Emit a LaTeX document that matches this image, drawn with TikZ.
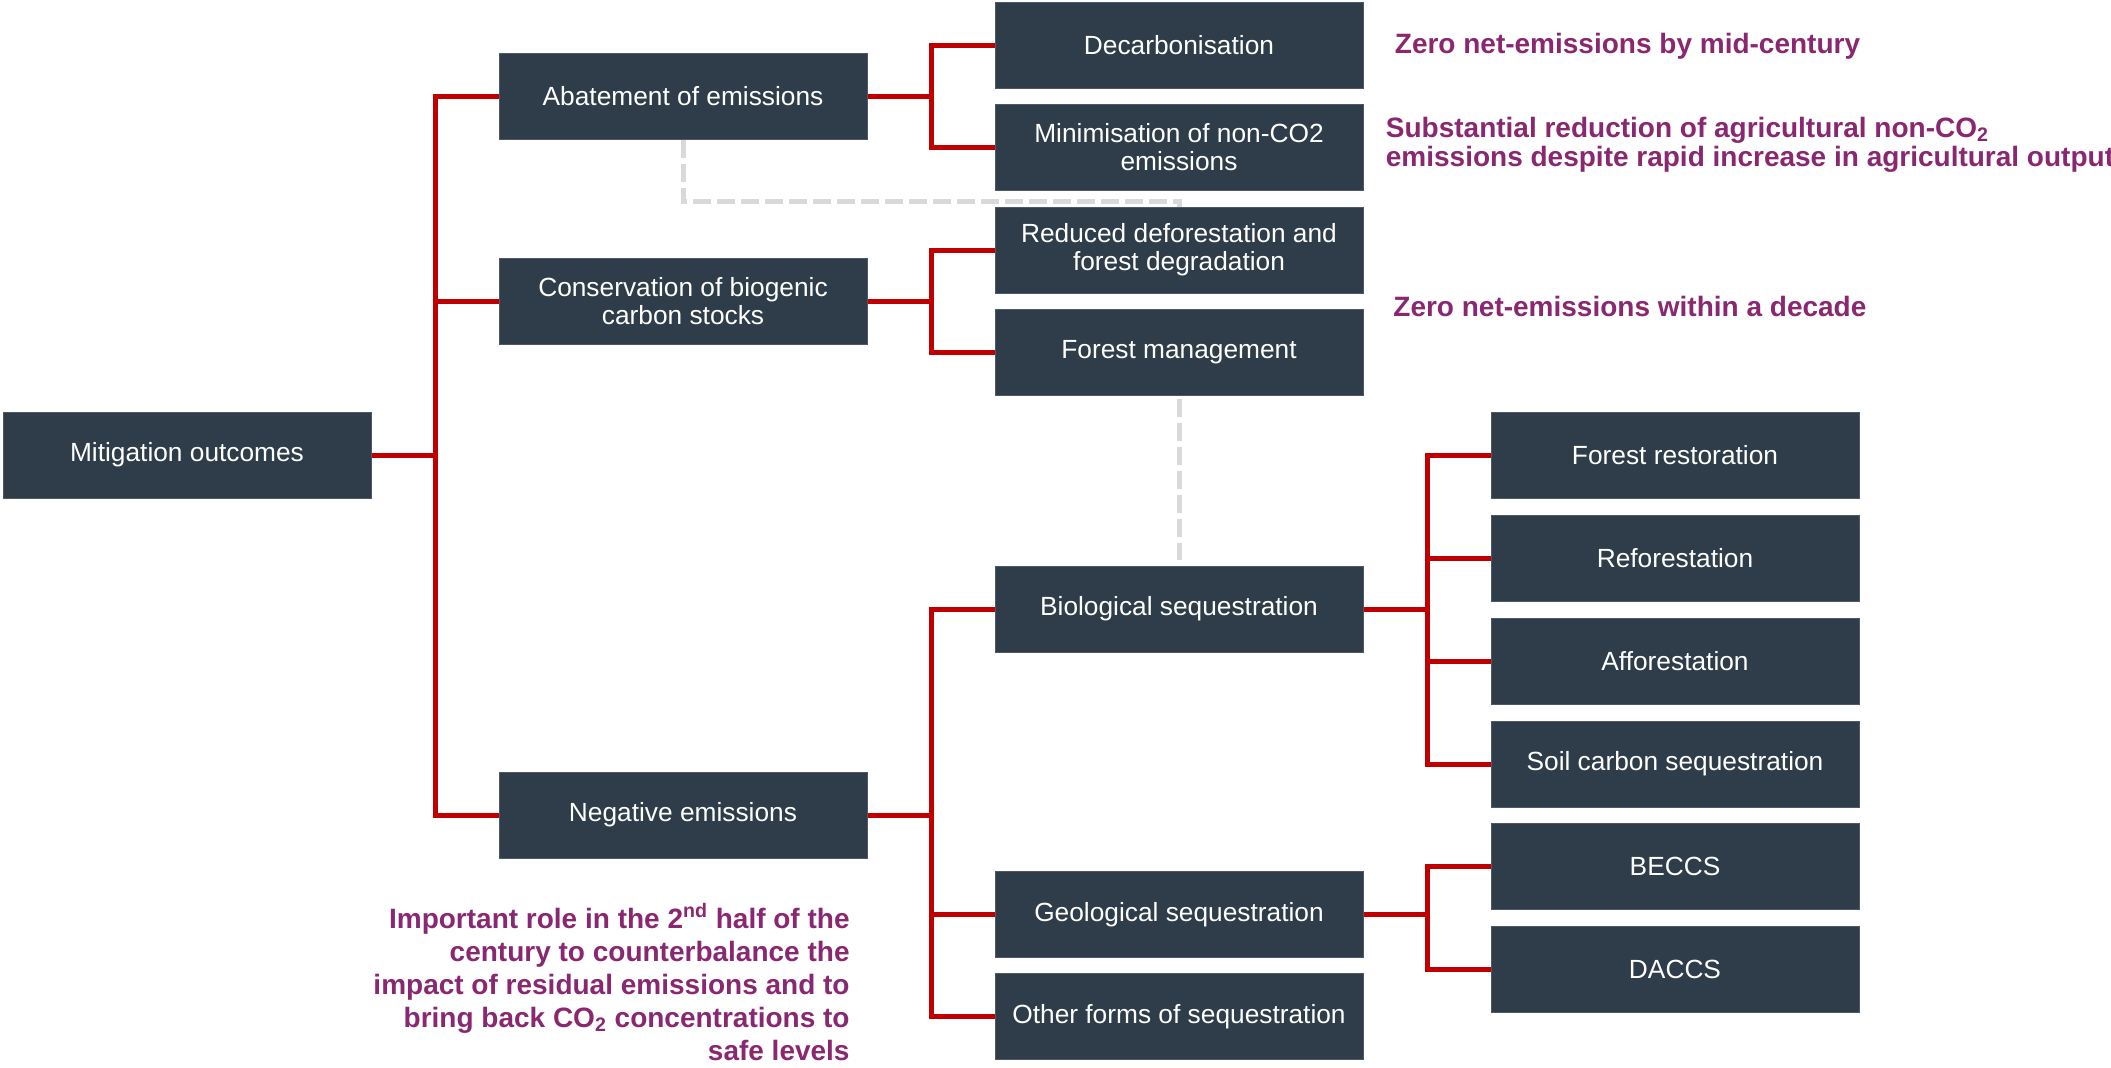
\documentclass[tikz,border=0pt]{standalone}
\usepackage{fontspec}
\setmainfont{Liberation Sans}
\usepackage{tikz}
\usetikzlibrary{positioning}
\definecolor{slate}{RGB}{46,61,73}
\definecolor{linkred}{RGB}{192,0,0}
\definecolor{plum}{RGB}{137,40,112}
\definecolor{guidegrey}{RGB}{217,217,217}
\tikzset{
	box/.style={rectangle,fill=slate,draw=slate!85!white,line width=0.5pt,text=white,minimum width=184pt,minimum height=43pt,inner sep=0pt,align=center,font=\fontsize{13.15}{14}\selectfont},
	link/.style={draw=linkred,line width=2.5pt},
	guide/.style={draw=guidegrey,line width=2.5pt,dash pattern=on 9pt off 3pt},
	note/.style={text=plum,inner sep=0pt,font=\bfseries\fontsize{14}{#1}\selectfont},
	note/.default=14.5
}

\begin{document}
\begin{tikzpicture}[x=0.5pt,y=-0.5pt]
						\useasboundingbox (0,0) rectangle (2111,1067);
						
						\node [box] (root) at (187,455) {Mitigation outcomes};
						
						\node [box] (abat) at (683,96) {Abatement of emissions};
						\node [box] (cons) at (683,301) {Conservation of biogenic\\carbon stocks};
						\node [box] (neg) at (683,815) {Negative emissions};
						
						\node [box] (decarb) at (1179,45) {Decarbonisation};
						\node [box] (minim) at (1179,147.5) {Minimisation of non-CO2\\emissions};
						\node [box] (reduced) at (1179,250) {Reduced deforestation and\\forest degradation};
						\node [box] (forestman) at (1179,352.5) {Forest management};
						\node [box] (bio) at (1179,609) {Biological sequestration};
						\node [box] (geo) at (1179,914.5) {Geological sequestration};
						\node [box] (other) at (1179,1016.5) {Other forms of sequestration};
						
						\node [box] (forestres) at (1675,455.5) {Forest restoration};
						\node [box] (refor) at (1675,558) {Reforestation};
						\node [box] (affor) at (1675,661) {Afforestation};
						\node [box] (soil) at (1675,764) {Soil carbon sequestration};
						\node [box] (beccs) at (1675,866) {BECCS};
						\node [box] (daccs) at (1675,969) {DACCS};
						
						\node [note, right=15.5pt of decarb, yshift=-0.5pt] (midcentury) {Zero net-emissions by mid-century};
						\node [note, right=11pt of minim, yshift=1.5pt, align=left] (agri) {Substantial reduction of agricultural non-CO\textsubscript{2}\\emissions despite rapid increase in agricultural output};
						\node [note, anchor=west] (decade) at (1393,306) {Zero net-emissions within a decade};
						\node [note=16.5, anchor=north east, align=right] (role) at (850,903) {Important role in the 2\textsuperscript{nd} half of the\\century to counterbalance the\\impact of residual emissions and to\\bring back CO\textsubscript{2} concentrations to\\safe levels};
						
						\draw [guide] (abat.south) -- ++(0,62) -| (reduced.north);
						\draw [guide, shorten <=1.5pt, shorten >=3pt] (forestman.south) -- (bio.north);
						
						\draw [link] (root.east) -- ++(64,0) |- (abat.west);
						\draw [link] (root.east) -- ++(64,0) |- (cons.west);
						\draw [link] (root.east) -- ++(64,0) |- (neg.west);
						\draw [link] (abat.east) -- ++(64,0) |- (decarb.west);
						\draw [link] (abat.east) -- ++(64,0) |- (minim.west);
						\draw [link] (cons.east) -- ++(64,0) |- (reduced.west);
						\draw [link] (cons.east) -- ++(64,0) |- (forestman.west);
						\draw [link] (neg.east) -- ++(64,0) |- (bio.west);
						\draw [link] (neg.east) -- ++(64,0) |- (geo.west);
						\draw [link] (neg.east) -- ++(64,0) |- (other.west);
						\draw [link] (bio.east) -- ++(64,0) |- (forestres.west);
						\draw [link] (bio.east) -- ++(64,0) |- (refor.west);
						\draw [link] (bio.east) -- ++(64,0) |- (affor.west);
						\draw [link] (bio.east) -- ++(64,0) |- (soil.west);
						\draw [link] (geo.east) -- ++(64,0) |- (beccs.west);
						\draw [link] (geo.east) -- ++(64,0) |- (daccs.west);
					\end{tikzpicture}
\end{document}
